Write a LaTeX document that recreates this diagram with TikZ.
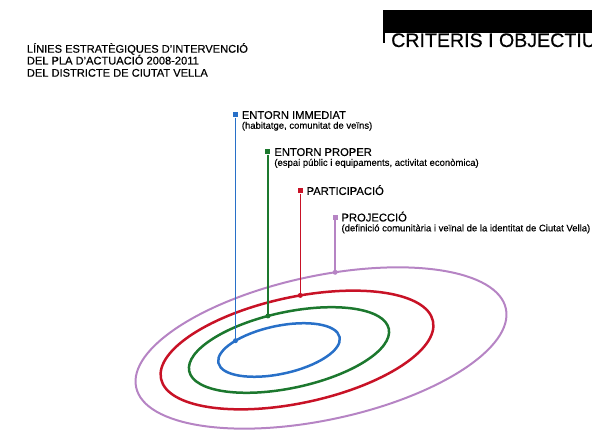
\documentclass[tikz,border=0pt]{standalone}
\usepackage{fontspec}
\setmainfont{Liberation Sans}[UprightFeatures={FakeBold=0.35}]
\usetikzlibrary{positioning,calc}
\definecolor{blueRing}{RGB}{40,112,200}
\definecolor{greenRing}{RGB}{28,120,46}
\definecolor{redRing}{RGB}{200,18,38}
\definecolor{purpleRing}{RGB}{182,132,196}

\begin{document}
\begin{tikzpicture}[x=1pt,y=1pt,
  sq/.style={fill=#1,inner sep=0pt,minimum size=5pt},
  ringdot/.style={circle,fill=#1,inner sep=0pt,minimum size=5pt},
  lbl/.style={inner sep=0pt,text height=7.9pt,text depth=0pt,font=\fontsize{11.2}{13}\selectfont},
  sub/.style={inner sep=0pt,anchor=north west,font=\fontsize{9.5}{10}\selectfont},
  head/.style={inner sep=0pt,anchor=base west,font=\fontsize{11.1}{13}\selectfont}]
\useasboundingbox (0,0) rectangle (592,430);
\clip (0,0) rectangle (592,430);

%% header, top left
\node[head] (head1) at (26.7,377.3) {LÍNIES ESTRATÈGIQUES D’INTERVENCIÓ};
\node[head] (head2) at (26.7,365.5) {DEL PLA D’ACTUACIÓ 2008-2011};
\node[head] (head3) at (26.7,353.3) {DEL DISTRICTE DE CIUTAT VELLA};

%% black bar, top right
\fill (383,397) rectangle (592,420);
\fill (383,387.3) rectangle (385,397);
\node[inner sep=0pt,anchor=base west,font=\fontsize{19.6}{22}\selectfont] (crit) at (391,383) {CRITERIS I OBJECTIUS};

%the rings
\coordinate (bc) at (279,80);
\coordinate (gc) at (289,80);
\coordinate (rc) at (297,80);
\coordinate (pc) at (321,82);
\draw[purpleRing,line width=2pt,rotate around={12:(pc)}] (pc) ellipse (189 and 72);
\draw[redRing,line width=2.5pt,rotate around={12:(rc)}] (rc) ellipse (139 and 53);
\draw[greenRing,line width=2.5pt,rotate around={12:(gc)}] (gc) ellipse (102 and 38);
\draw[blueRing,line width=2.5pt,rotate around={12:(bc)}] (bc) ellipse (62 and 24);

%points on the rings
\path (bc) ++(12:{62*cos(131)}) ++(102:{24*sin(131)}) coordinate (bdot);
\path (gc) ++(12:{102*cos(97.6)}) ++(102:{38*sin(97.6)}) coordinate (gdot);
\path (rc) ++(12:{139*cos(84)}) ++(102:{53*sin(84)}) coordinate (rdot);
\path (pc) ++(12:{189*cos(81)}) ++(102:{72*sin(81)}) coordinate (pdot);

%the markers
\node[sq=blueRing] (bsq) at (bdot |- 0,315) {};
\node[sq=greenRing] (gsq) at (gdot |- 0,278) {};
\node[sq=redRing] (rsq) at (rdot |- 0,239) {};
\node[sq=purpleRing] (psq) at (pdot |- 0,212.5) {};

%drawings of lines
\draw[blueRing,line width=1.5pt] (bsq) -- (bdot);
\draw[greenRing,line width=1.5pt] (gsq) -- (gdot);
\draw[redRing,line width=1.5pt] (rsq) -- (rdot);
\draw[purpleRing,line width=1.5pt] (psq) -- (pdot);
\node[ringdot=blueRing] (bpt) at (bdot) {};
\node[ringdot=greenRing] (gpt) at (gdot) {};
\node[ringdot=redRing] (rpt) at (rdot) {};
\node[ringdot=purpleRing] (ppt) at (pdot) {};

%the labels
\node[lbl,right=3.5pt of bsq] (bname) {ENTORN IMMEDIAT};
\node[sub] (bsub) at ([yshift=-2.5pt]bname.south west) {(habitatge, comunitat de veïns)};
\node[lbl,right=3.5pt of gsq] (gname) {ENTORN PROPER};
\node[sub] (gsub) at ([yshift=-2.5pt]gname.south west) {(espai públic i equipaments, activitat econòmica)};
\node[lbl,right=3.5pt of rsq] (rname) {PARTICIPACIÓ};
\node[lbl,right=3.5pt of psq] (pname) {PROJECCIÓ};
\node[sub] (psub) at ([yshift=-2.5pt]pname.south west) {(definició comunitària i veïnal de la identitat de Ciutat Vella)};

\end{tikzpicture}
\end{document}
